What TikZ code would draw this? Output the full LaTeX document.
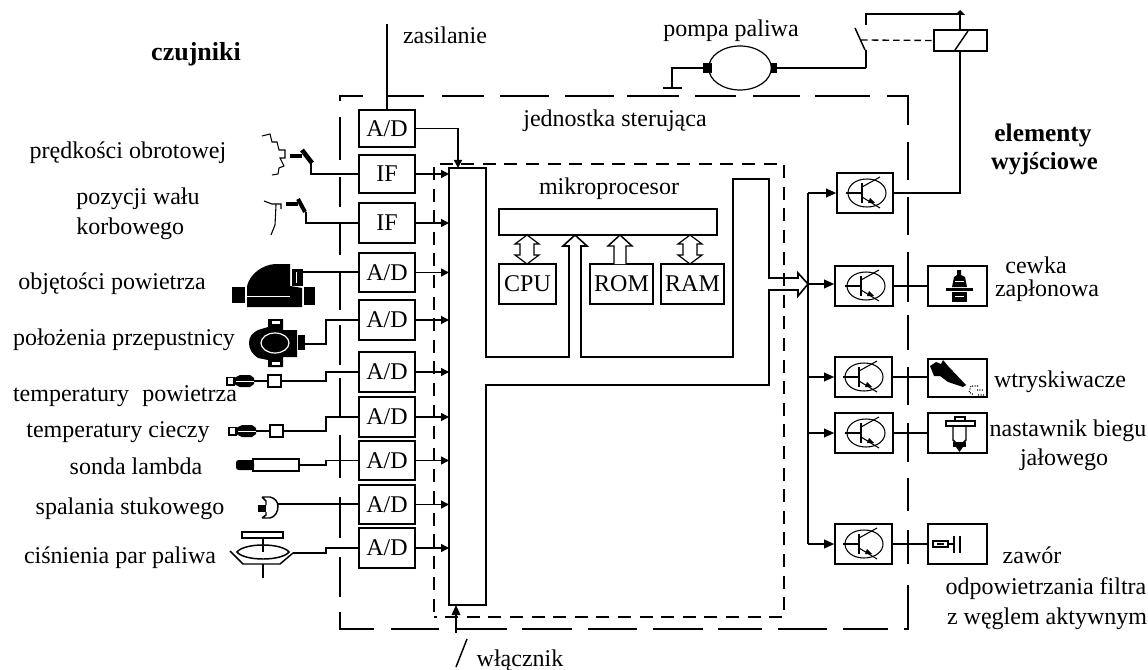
\documentclass[tikz,border=0pt]{standalone}
\usepackage{fontspec}
\setmainfont{Liberation Serif}
\usetikzlibrary{arrows.meta,shapes.geometric}
\newcommand{\pbox}[6]{\node[pboxst,minimum width={(#4-#2)*0.75pt},minimum height={(#5-#3)*0.75pt}] (#1) at ({(#2+#4)/2},{(#3+#5)/2}) {\raisebox{-1pt}{#6}};}
\newcommand{\lbl}[4]{\node[lblst] (#1) at (#2,#3) {#4};}
\newcommand{\blbl}[5]{\node[lblst,font=\fontsize{#5pt}{20pt}\selectfont\bfseries] (#1) at (#2,#3) {#4};}
\tikzset{
  pboxst/.style={draw,line width=1.2pt,inner sep=0pt,font=\fontsize{18pt}{20pt}\selectfont},
  lblst/.style={inner sep=0pt,yshift=-2pt,font=\fontsize{18pt}{20pt}\selectfont,text height=12pt,text depth=4pt},
  wire/.style={line width=1.1pt},
  thin wire/.style={line width=0.8pt},
  sig/.style={line width=1.1pt,-{Triangle[length=7.5pt,width=6.5pt]}},
  sigm/.style={line width=1.1pt,-{Triangle[length=6pt,width=6pt]}},
  outerd/.style={line width=1.2pt},
  innerd/.style={line width=1.1pt,dash pattern=on 9.8pt off 6.4pt},
  transsym/.pic={
    \draw[thin wire] (0,-14) .. controls (12,-14) and (19,-7) .. (19,0) .. controls (19,7) and (12,14) .. (0,14) .. controls (-12,14) and (-19,7) .. (-19,0) .. controls (-19,-7) and (-12,-14) .. (0,-14);
    \draw[thin wire] (-21,0) -- (-5,0);
    \draw[line width=1.1pt] (-5,-10) -- (-5,10);
    \draw[thin wire] (-5,-6) -- (13,-16);
    \draw[thin wire] (-5,4) -- (13,15);
    \fill (8,10) -- (1,10) -- (3,5) -- cycle;
  },
  dblarrow/.pic={
    \draw[line width=0.9pt,fill=white] (0,0) -- (-12,9) -- (-7,9) -- (-7,20) -- (-12,20) -- (0,29) -- (12,20) -- (7,20) -- (7,9) -- (12,9) -- cycle;
  },
  uparrow/.pic={
    \draw[wire,fill=white] (-6,29) -- (-6,11) -- (-12,11) -- (0,0) -- (12,11) -- (6,11) -- (6,29);
  },
  tempsensor/.pic={
    \draw[wire,fill=white] (0,0) rectangle (13,12);
    \draw[wire] (-41,2.5) rectangle (-34,10);
    \fill (-34,3) -- (-28,0) -- (-18,0) -- (-14,3) -- (-14,9) -- (-18,12) -- (-28,12) -- (-34,9) -- cycle;
    \draw[white,line width=0.7pt] (-32,6) -- (-14,6);
    \draw[wire] (-14,6) -- (0,6);
  }
}
\begin{document}
\begin{tikzpicture}[x=0.75pt,y=-0.75pt,line cap=butt]
\useasboundingbox (0,0) rectangle (1148,670);
\fill[white] (0,0) rectangle (1148,670);

% outer dashed enclosure
\foreach \a/\b in {388/424,442/484,500/549,565/614,627/679,695/736,753/800,815/870}
  \draw[outerd] (\a,96) -- (\b,96);
\foreach \a/\b in {391/439,456/507,522/572,588/637,653/703,718/762,778/827,843/888}
  \draw[outerd] (\a,629) -- (\b,629);
\foreach \a/\b in {117/160,177/207,223/255,272/310,325/365,378/417,435/478,497/538,557/597}
  \draw[outerd] (340,\a) -- (340,\b);
\foreach \a/\b in {142/180,197/235,252/302,315/350,367/405,423/462,478/511,530/564}
  \draw[outerd] (908,\a) -- (908,\b);
\draw[outerd] (340,101) -- (340,96) -- (363,96);
\draw[outerd] (887,96) -- (908,96) -- (908,125);
\draw[outerd] (340,612) -- (340,629) -- (374,629);
\draw[outerd] (904,629) -- (908,629) -- (908,585);
% inner dashed enclosure
\draw[innerd] (434,612) -- (434,164) -- (784,164) -- (784,617) -- (434,617);

% bus
\draw[line width=1.2pt,line join=miter] (449,168) -- (486,168) -- (486,357) -- (569,357) -- (569,246) -- (563,246) -- (575,235) -- (587,246) -- (581,246) -- (581,357) -- (733,357) -- (733,179) -- (769,179) -- (769,278) -- (798,278) -- (798,273) -- (808,284) -- (798,296) -- (798,290) -- (769,290) -- (769,385) -- (486,385) -- (486,605) -- (449,605) -- cycle;
\coordinate (busw) at (449,300);
\coordinate (bustop) at (458,168);
\coordinate (busbot) at (456,605);

% left converters
\pbox{ad0}{359}{110}{415}{147}{A/D}
\pbox{if1}{359}{155}{415}{193}{IF}
\pbox{if2}{359}{203}{415}{243}{IF}
\pbox{ad1}{359}{253}{415}{292}{A/D}
\pbox{ad2}{359}{300}{415}{340}{A/D}
\pbox{ad3}{359}{352}{415}{392}{A/D}
\pbox{ad4}{359}{397}{415}{437}{A/D}
\pbox{ad5}{359}{441}{415}{480}{A/D}
\pbox{ad6}{359}{485}{415}{524}{A/D}
\pbox{ad7}{359}{528}{415}{568}{A/D}
\foreach \n in {if1,if2,ad1,ad2,ad3,ad4,ad5,ad6,ad7}
  \draw[sigm] (\n.east) -- (\n.east -| busw);
\draw[sigm] (ad0.east) -| (bustop);

% supply and switch
\coordinate (zas) at (387,24);
\draw[wire] (zas) -- (ad0.north);
\coordinate (wl) at (456,633);
\draw[sig] (wl) -- (busbot);
\coordinate (sw1) at (456,667);
\coordinate (sw2) at (467,639);
\draw[wire] (sw1) -- (sw2);

% microprocessor
\pbox{mbus}{499}{209}{717}{235}{}
\pbox{cpu}{499}{264}{556}{304}{CPU}
\pbox{rom}{590}{264}{653}{304}{ROM}
\pbox{ram}{661}{264}{724}{304}{RAM}
\pic at (527,235) {dblarrow};
\pic at (690,235) {dblarrow};
\pic at (620,235) {uparrow};

% transistors
\pbox{t1}{837}{173}{893}{213}{}
\pbox{t2}{835}{266}{893}{306}{}
\pbox{t3}{835}{357}{892}{397}{}
\pbox{t4}{835}{413}{893}{453}{}
\pbox{t5}{835}{524}{892}{564}{}
\pic at (867,193) {transsym};
\pic at (866,286) {transsym};
\pic at (864,377) {transsym};
\pic at (866,433) {transsym};
\pic at (864,544) {transsym};
\coordinate (dist) at (808,284);
\draw[wire] (t1.west -| dist) -- (t5.west -| dist);
\draw[sig] (dist |- t1.west) -- (t1.west);
\draw[sig] (dist) -- (t2.west |- dist);
\draw[sig] (dist |- t3.west) -- (t3.west);
\draw[sig] (dist |- t4.west) -- (t4.west);
\draw[sig] (dist |- t5.west) -- (t5.west);

% output device boxes
\pbox{o2}{928}{266}{987}{306}{}
\pbox{o3}{928}{359}{987}{397}{}
\pbox{o4}{928}{413}{987}{453}{}
\pbox{o5}{928}{524}{987}{564}{}
\draw[wire] (t2.east) -- (o2.west);
\draw[wire] (t3.east) -- (t3.east -| o3.west);
\draw[wire] (t4.east) -- (o4.west);
\draw[wire] (t5.east) -- (o5.west);

% coil icon
\fill (957,270) -- (961,270) -- (961,275) -- (965,277) -- (967,287) -- (952,287) -- (954,277) -- (957,275) -- cycle;
\fill (946,287.5) rectangle (973,290.5);
\fill (952,292) rectangle (967,302);
\draw[white,line width=0.4pt] (955,281) -- (964,281) (955,296) -- (964,296);
% injector icon
\fill (930,366) -- (936,362) -- (941,364) -- (943,360) -- (948,366) -- (966,385) -- (963,387) -- (948,382) -- (940,376) -- (934,376) -- cycle;
\draw[thin wire,densely dotted] (978,386) -- (971,386) -- (969,392) -- (974,395) (977,390) -- (984,390) (984,395) -- (978,395);
% idle actuator icon
\draw[wire] (955,421) -- (955,417) -- (965,417) -- (965,421);
\draw[wire] (946,421) rectangle (975,426);
\draw[wire] (953,426) -- (953,440) -- (957,444) -- (962,444) -- (966,440) -- (966,426);
\fill (953,442) rectangle (966,447);
\fill (956,447) -- (963,447) -- (959.5,452) -- cycle;
% purge valve icon
\draw[thin wire] (933,541) rectangle (948,547);
\draw[thin wire] (937,544) -- (944,544);
\draw[wire] (948,544) -- (955,544);
\draw[wire] (954,536) -- (954,553);
\draw[wire] (960,536) -- (960,553);

% relay and pump
\pbox{rel}{934}{30}{987}{51}{}
\coordinate (relx) at (960,30);
\draw[wire] (t1.east) -| (rel.south -| relx);
\draw[wire] (955,50) -- (968,31);
\coordinate (top) at (960,14);
\draw[wire] (top) -- (relx);
\fill (960,10) -- (965,15) -- (955,15) -- cycle;
\coordinate (swa) at (866,25);
\coordinate (swb) at (866,50);
\coordinate (swc) at (866,68);
\draw[wire] (swa) |- (top);
\draw[wire] (855,28) -- (865,50);
\draw[wire] (swb) -- (swc);
\node[draw,ellipse,line width=0.9pt,minimum width=47pt,minimum height=33pt,inner sep=0pt] (pump) at (740,68) {};
\fill (703,63) rectangle (712,73);
\fill (771,63) rectangle (777,73);
\draw[wire] (777,68) -- (swc);
\draw[line width=1pt,dash pattern=on 5pt off 3pt] (861,40) -- (rel.west);
\coordinate (gnd) at (672,88);
\draw[wire] (703,68) -| (gnd);
\draw[wire] (663,88) -- (682,88);

% speed sensor
\draw[thin wire] (262,136) -- (270,134) -- (272,142) -- (277,142) -- (279,150) -- (285,150) -- (285,158) -- (280,158) -- (284,166) -- (279,168) -- (278,174) -- (272,175);
\draw[line width=2.5pt] (290,156) -- (302,156);
\draw[line width=3.5pt] (302,150) -- (312,163);
\coordinate (s1) at (311,163);
\draw[wire] (s1) |- (if1.west);
% crank sensor
\draw[thin wire] (264,201) -- (272,204) -- (281,204) -- (281,209) (276,205) -- (275,225) -- (271,235);
\draw[line width=2.5pt] (286,204) -- (298,204);
\draw[line width=3pt] (298,199) -- (305,212);
\coordinate (s2) at (306,212);
\draw[wire] (s2) |- (if2.west);
% air flow
\fill (247,307) -- (247,286) .. controls (250,274) and (262,265) .. (275,264) -- (290,264) -- (290,286) -- (302,288) -- (302,307) -- cycle;
\fill (232,287) rectangle (245,303);
\fill (304,287) rectangle (315,305);
\fill (292,269) rectangle (303,286);
\draw[white,line width=0.4pt] (247,296) -- (290,296) (296,272) -- (296,283);
\coordinate (s3) at (303,272);
\draw[wire] (s3) -- (s3 -| ad1.west);
% throttle
\fill (268,319) -- (283,319) -- (283,330) -- (297,330) -- (297,357) -- (283,357) -- (283,367) -- (268,367) -- (268,360) -- (258,358) .. controls (252,354) and (249,349) .. (249,343) .. controls (249,337) and (252,333) .. (258,330) -- (268,327) -- cycle;
\fill[white] (272,321) rectangle (280,324);
\fill[white] (272,362) rectangle (280,365);
\draw[white,line width=0.9pt] (275,343) ellipse (14 and 10);
\fill (298,335) rectangle (305,350);
\coordinate (s4) at (305,344);
\coordinate (k4) at (326,344);
\draw[wire] (s4) -- (k4) |- (ad2.west);
% temperature sensors
\pic at (268,375) {tempsensor};
\pic at (270,425) {tempsensor};
\coordinate (s5) at (281,381);
\coordinate (k5) at (326,381);
\draw[wire] (s5) -- (k5) |- (ad3.west);
\coordinate (s6) at (283,431);
\coordinate (k6) at (326,431);
\draw[wire] (s6) -- (k6) |- (ad4.west);
% lambda
\fill[rounded corners=2pt] (236,460) rectangle (254,470);
\draw[wire] (253,459) rectangle (299,471);
\coordinate (s7) at (299,465);
\coordinate (k7) at (326,465);
\draw[wire] (s7) -- (k7) |- (ad5.west);
% knock
\draw[wire] (262,497) -- (270,497) .. controls (275,498) and (278,502) .. (278,506) .. controls (278,512) and (275,517) .. (270,518) -- (262,518) (262,497) -- (266,501) -- (266,505) (266,512) -- (266,515) -- (262,518);
\fill (258,505) rectangle (266,512);
\coordinate (s8) at (278,504);
\draw[wire] (s8) -- (s8 -| ad6.west);
% pressure
\draw[wire] (242,532) rectangle (283,538);
\draw[wire] (263,538) -- (263,552);
\draw[wire] (237,552) .. controls (240,548) and (250,545) .. (263,545) .. controls (276,545) and (286,548) .. (289,552) .. controls (286,556) and (276,559) .. (263,559) .. controls (250,559) and (240,556) .. (237,552) -- cycle;
\draw[wire] (230,551) -- (243,564) -- (280,564) -- (293,553);
\draw[wire] (263,564) -- (263,578);
\coordinate (s9) at (293,553);
\coordinate (k9) at (326,553);
\draw[wire] (s9) -- (k9) |- (ad7.west);

% labels
\blbl{lczuj}{196}{53}{czujniki}{19.5}
\lbl{lzas}{445}{36}{zasilanie}
\lbl{lpomp}{731}{29}{pompa paliwa}
\lbl{ljedn}{615}{119}{jednostka sterująca}
\lbl{lmikro}{609}{187}{mikroprocesor}
\blbl{lel}{1043}{134}{elementy}{19}
\blbl{lwy}{1044.5}{162}{wyjściowe}{18.5}
\lbl{l1}{128}{151}{prędkości obrotowej}
\lbl{l2}{138}{197}{pozycji wału}
\node[lblst,anchor=west] (l2b) at (76,226) {korbowego};
\lbl{l3}{112}{281}{objętości powietrza}
\lbl{l4}{124}{337}{położenia przepustnicy}
\lbl{l5}{125}{393}{temperatury\hspace{10pt}powietrza}
\lbl{l6}{118}{429}{temperatury cieczy}
\lbl{l7}{136}{466}{sonda lambda}
\lbl{l8}{130}{506}{spalania stukowego}
\lbl{l9}{120}{555}{ciśnienia par paliwa}
\lbl{lcew}{1036}{265}{cewka}
\lbl{lzap}{1047}{288}{zapłonowa}
\lbl{lwtr}{1060}{379}{wtryskiwacze}
\lbl{lnas}{1068}{428}{nastawnik biegu}
\lbl{ljal}{1064}{457}{jałowego}
\lbl{lzaw}{1032}{555}{zawór}
\lbl{lodp}{1046}{586}{odpowietrzania filtra}
\lbl{lzwe}{1047}{616}{z węglem aktywnym}
\lbl{lwl}{520}{658}{włącznik}
\end{tikzpicture}
\end{document}
